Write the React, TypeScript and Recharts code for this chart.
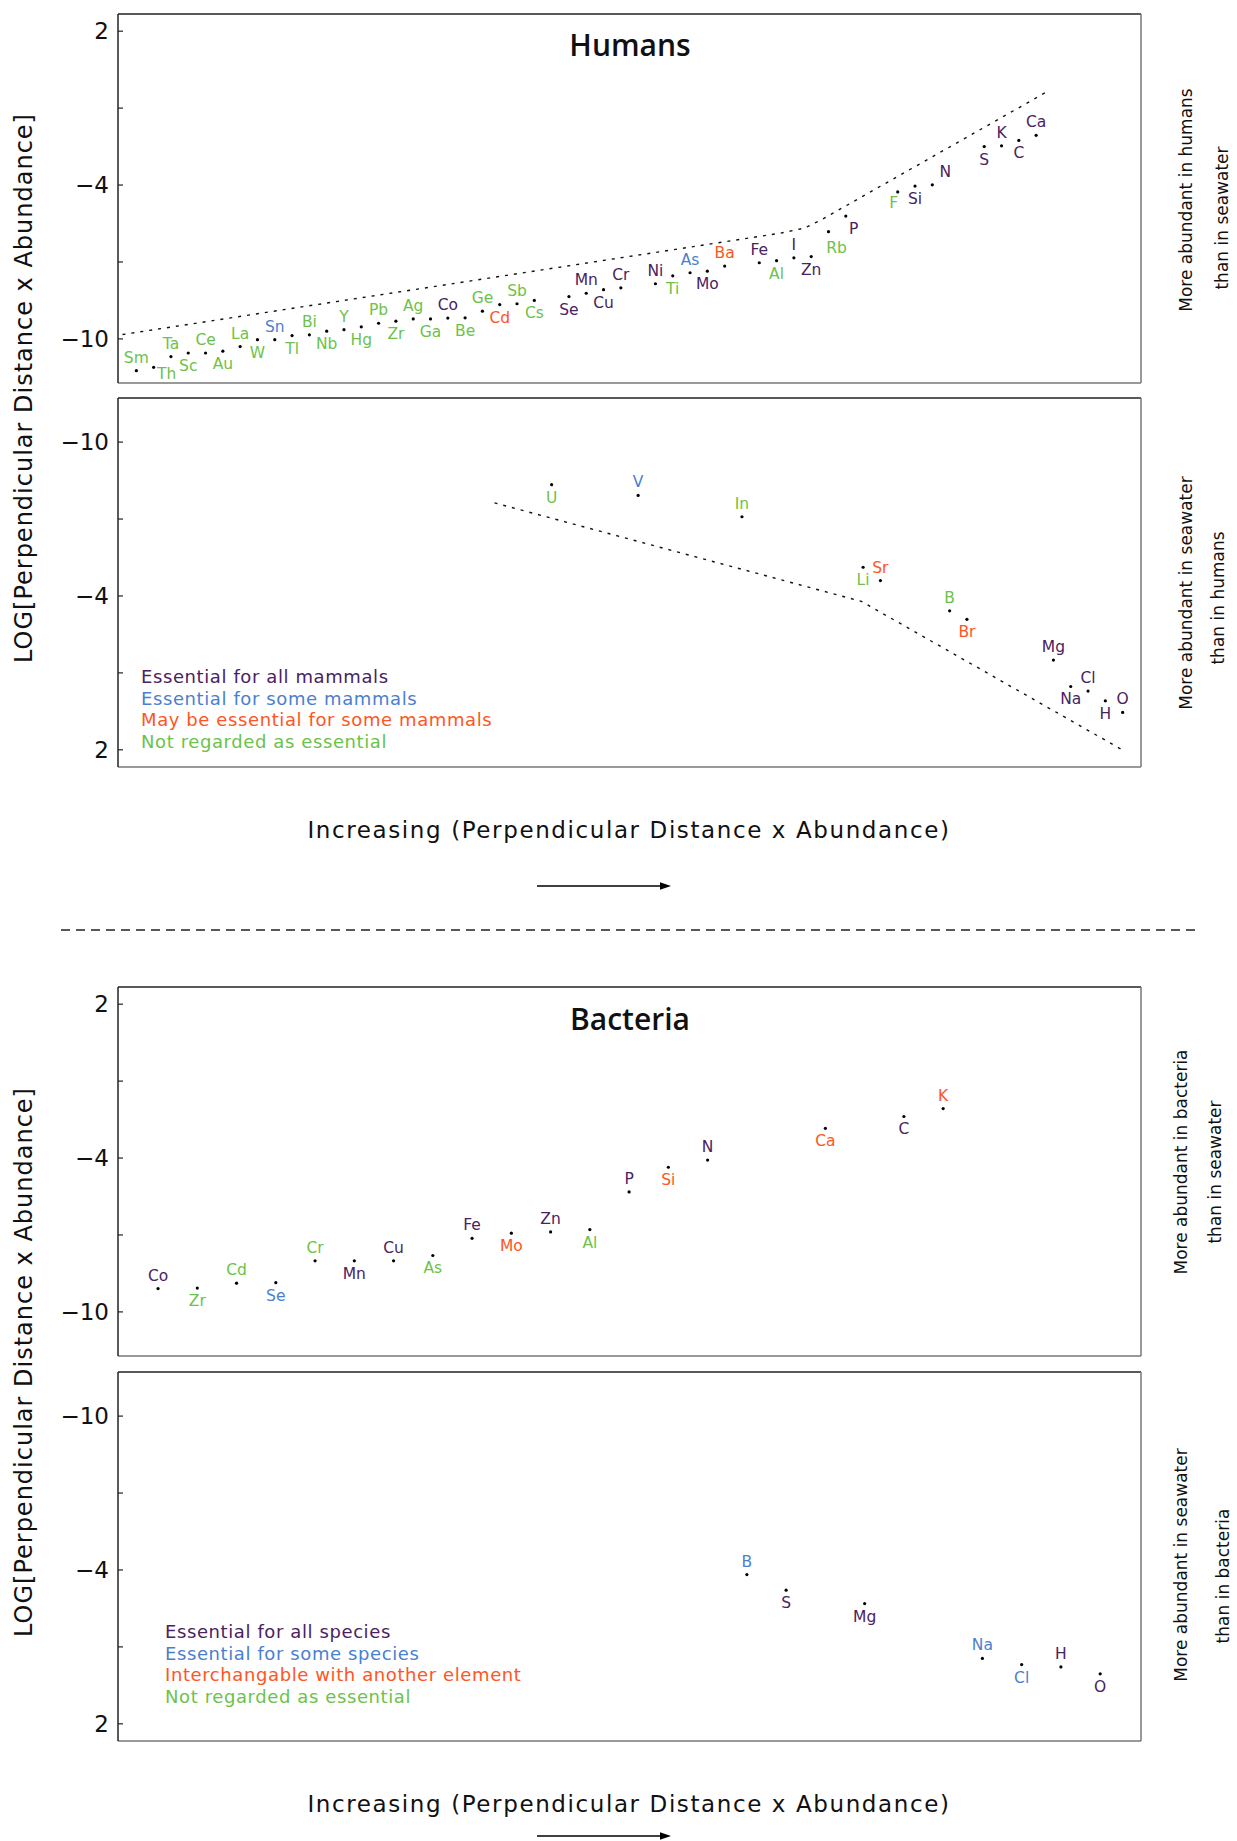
import React from 'react';
import { ScatterChart, Scatter, XAxis, YAxis, Legend, ReferenceLine } from 'recharts';

const W = 1237;
const H = 1841;
const PLOT_H = 369;

// label colours: essential for all / essential for some / may be (or interchangeable) / not essential
const groupColors = ['#4a2260', '#4a7fcf', '#ff5522', '#6cc24a'];

const humanGroups = [
  'Essential for all mammals',
  'Essential for some mammals',
  'May be essential for some mammals',
  'Not regarded as essential',
];
const bacteriaGroups = [
  'Essential for all species',
  'Essential for some species',
  'Interchangable with another element',
  'Not regarded as essential',
];

// [element, rank along x, LOG value, group]
type Row = [string, number, number, number];

const humansAbove: Row[] = [
  ['Sm', 0, -11.24, 3], ['Th', 1, -11.11, 3], ['Ta', 2, -10.69, 3], ['Sc', 3, -10.55, 3],
  ['Ce', 4, -10.55, 3], ['Au', 5, -10.48, 3], ['La', 6, -10.3, 3], ['W', 7, -10.03, 3],
  ['Sn', 8, -10.03, 1], ['Tl', 9, -9.87, 3], ['Bi', 10, -9.84, 3], ['Nb', 11, -9.7, 3],
  ['Y', 12, -9.64, 3], ['Hg', 13, -9.53, 3], ['Pb', 14, -9.39, 3], ['Zr', 15, -9.31, 3],
  ['Ag', 16, -9.22, 3], ['Ga', 17, -9.22, 3], ['Co', 18, -9.19, 0], ['Be', 19, -9.18, 3],
  ['Ge', 20, -8.92, 3], ['Cd', 21, -8.66, 2], ['Sb', 22, -8.63, 3], ['Cs', 23, -8.5, 3],
  ['Se', 25, -8.35, 0], ['Mn', 26, -8.22, 0], ['Cu', 27, -8.08, 0], ['Cr', 28, -8.01, 0],
  ['Ni', 30, -7.85, 0], ['Ti', 31, -7.54, 3], ['As', 32, -7.42, 1], ['Mo', 33, -7.36, 0],
  ['Ba', 34, -7.16, 2], ['Fe', 36, -7.03, 0], ['Al', 37, -6.95, 3], ['I', 38, -6.84, 0],
  ['Zn', 39, -6.79, 0], ['Rb', 40, -5.82, 3], ['P', 41, -5.21, 0], ['F', 44, -4.27, 3],
  ['Si', 45, -4.04, 0], ['N', 46, -3.99, 0], ['S', 49, -2.5, 0], ['K', 50, -2.47, 0],
  ['C', 51, -2.26, 0], ['Ca', 52, -2.06, 0],
];

const humansBelow: Row[] = [
  ['U', 24, -8.34, 3], ['V', 29, -7.92, 1], ['In', 35, -7.09, 3], ['Li', 42, -5.12, 3],
  ['Sr', 43, -4.6, 2], ['B', 47, -3.42, 3], ['Br', 48, -3.09, 2], ['Mg', 53, -1.5, 0],
  ['Na', 54, -0.47, 0], ['Cl', 55, -0.29, 0], ['H', 56, 0.09, 0], ['O', 57, 0.54, 0],
];

const bacteriaAbove: Row[] = [
  ['Co', 0, -9.09, 0], ['Zr', 1, -9.07, 3], ['Cd', 2, -8.88, 3], ['Se', 3, -8.86, 1],
  ['Cr', 4, -8.01, 3], ['Mn', 5, -8.01, 0], ['Cu', 6, -8.01, 0], ['As', 7, -7.8, 3],
  ['Fe', 8, -7.13, 0], ['Mo', 9, -6.93, 2], ['Zn', 10, -6.88, 0], ['Al', 11, -6.79, 3],
  ['P', 12, -5.32, 0], ['Si', 13, -4.36, 2], ['N', 14, -4.08, 0], ['Ca', 17, -2.84, 2],
  ['C', 19, -2.38, 0], ['K', 20, -2.07, 2],
];

const bacteriaBelow: Row[] = [
  ['B', 15, -3.82, 1], ['S', 16, -3.21, 0], ['Mg', 18, -2.69, 0], ['Na', 21, -0.55, 1],
  ['Cl', 22, -0.31, 1], ['H', 23, -0.22, 0], ['O', 24, 0.05, 0],
];

// dotted dividing curves: [rank, LOG value]
const humansAboveEdge: [number, number][] = [
  [-0.8, -9.83], [37.2, -5.88], [38.6, -5.68], [39.6, -5.35], [52.5, -0.41],
];
const humansBelowEdge: [number, number][] = [
  [20.7, -7.63], [41.9, -3.79], [57.0, 2.01],
];

const humansX: [number, number] = [-1.06, 58.06];
const bacteriaX: [number, number] = [-1.02, 25.04];
const yDomain: [number, number] = [-11.72, 2.67];
const yTicks = [2, -1, -4, -7, -10];
const yLabelled = [2, -4, -10];

const humansAboveNudge: Record<string, [number, number]> = {
  Th: [13, 7],
  Rb: [8, 16],
  P: [8, 13],
  F: [-4, 11],
  N: [13, -13],
};

const FONT = '"DejaVu Sans", sans-serif';

const fmtTick = (v: number) =>
  yLabelled.includes(v) ? (v < 0 ? '\u2212' + Math.abs(v) : String(v)) : '';

function makeShape(aboveParity: number, nudges: Record<string, [number, number]>) {
  return (props: any) => {
    const { cx, cy, payload } = props;
    if (cx == null || cy == null) return <g />;
    const above = payload.rank % 2 === aboveParity;
    const [nx, ny] = nudges[payload.el] ?? [0, above ? -13 : 13];
    return (
      <g>
        <circle cx={cx} cy={cy} r={1.6} fill="#000" />
        <text
          x={cx + nx}
          y={cy + ny}
          textAnchor="middle"
          dominantBaseline="central"
          fontSize={15.5}
          fontFamily={FONT}
          fill={groupColors[payload.g]}
        >
          {payload.el}
        </text>
      </g>
    );
  };
}

interface PanelProps {
  top: number;
  rows: Row[];
  edge?: [number, number][];
  xDomain: [number, number];
  flip?: boolean;
  aboveParity: number;
  nudges?: Record<string, [number, number]>;
  legend?: { labels: string[]; left: number; top: number };
}

function Panel({ top, rows, edge, xDomain, flip = false, aboveParity, nudges = {}, legend }: PanelProps) {
  const data = rows.map(([el, rank, v, g]) => ({ el, rank, v, g }));
  const edgeData = edge ? edge.map(([rank, v]) => ({ rank, v })) : [];
  const frameDark = { stroke: '#222', strokeWidth: 1.5 };
  const frameLight = { stroke: '#777', strokeWidth: 1.5 };
  const topValue = flip ? yDomain[0] : yDomain[1];
  const bottomValue = flip ? yDomain[1] : yDomain[0];

  return (
    <div style={{ position: 'absolute', left: 0, top: top - 2 }}>
      <ScatterChart width={W} height={PLOT_H + 4} margin={{ top: 2, right: 0, bottom: 2, left: 0 }}>
        <XAxis xAxisId="b" type="number" dataKey="rank" domain={xDomain} allowDataOverflow hide />
        <YAxis
          yAxisId="l"
          type="number"
          dataKey="v"
          domain={yDomain}
          reversed={flip}
          allowDataOverflow
          ticks={yTicks}
          interval={0}
          tickFormatter={fmtTick}
          tickLine={{ stroke: '#222', strokeWidth: 1.2 }}
          tickSize={-5}
          tickMargin={14}
          width={118}
          axisLine={frameDark}
          tick={{ fontSize: 23, fill: '#111', fontFamily: FONT }}
        />
        <YAxis
          yAxisId="r"
          orientation="right"
          type="number"
          dataKey="v"
          domain={yDomain}
          reversed={flip}
          allowDataOverflow
          ticks={yTicks}
          interval={0}
          width={96}
          tick={false}
          tickSize={-5}
          axisLine={frameLight}
          tickLine={{ stroke: '#555', strokeWidth: 1.2 }}
        />
        <ReferenceLine xAxisId="b" yAxisId="l" y={topValue} stroke="#222" strokeWidth={1.5} />
        <ReferenceLine xAxisId="b" yAxisId="l" y={bottomValue} stroke="#777" strokeWidth={1.5} />
        {edge && (
          <Scatter
            xAxisId="b"
            yAxisId="l"
            data={edgeData}
            line={{ stroke: '#111', strokeWidth: 1.4, strokeDasharray: '3 6' }}
            shape={() => <g />}
            isAnimationActive={false}
          />
        )}
        <Scatter xAxisId="b" yAxisId="r" data={data} shape={() => <g />} isAnimationActive={false} />
        <Scatter
          xAxisId="b"
          yAxisId="l"
          data={data}
          shape={makeShape(aboveParity, nudges)}
          isAnimationActive={false}
        />
        {legend && (
          <Legend
            layout="vertical"
            align="center"
            verticalAlign="middle"
            wrapperStyle={{ left: legend.left, top: legend.top, width: 'auto' }}
            content={() => (
              <div style={{ fontFamily: FONT, fontSize: 18, lineHeight: '21.5px', letterSpacing: 0.6, whiteSpace: 'nowrap' }}>
                {legend.labels.map((t, i) => (
                  <div key={t} style={{ color: groupColors[i] }}>
                    {t}
                  </div>
                ))}
              </div>
            )}
          />
        )}
      </ScatterChart>
    </div>
  );
}

function SideText({ x, y, text }: { x: number; y: number; text: string }) {
  return (
    <text
      transform={`translate(${x},${y}) rotate(-90)`}
      textAnchor="middle"
      fontSize={17}
      fontFamily={FONT}
      fill="#111"
    >
      {text}
    </text>
  );
}

function Arrow({ y }: { y: number }) {
  return (
    <g>
      <line x1={537} x2={662} y1={y} y2={y} stroke="#000" strokeWidth={1.4} />
      <polygon points={`660,${y - 3.8} 671,${y} 660,${y + 3.8}`} fill="#000" />
    </g>
  );
}

export default function App() {
  const xLabel = 'Increasing (Perpendicular Distance x Abundance)';
  const yLabel = 'LOG[Perpendicular Distance x Abundance]';
  return (
    <div style={{ position: 'absolute', left: 0, top: 0, width: W, height: H, background: '#fff', overflow: 'hidden' }}>
      <Panel top={14} rows={humansAbove} edge={humansAboveEdge} xDomain={humansX} aboveParity={0} nudges={humansAboveNudge} />
      <Panel
        top={398}
        rows={humansBelow}
        edge={humansBelowEdge}
        xDomain={humansX}
        flip
        aboveParity={1}
        legend={{ labels: humanGroups, left: 141, top: 270 }}
      />
      <Panel top={987} rows={bacteriaAbove} xDomain={bacteriaX} aboveParity={0} />
      <Panel
        top={1372}
        rows={bacteriaBelow}
        xDomain={bacteriaX}
        flip
        aboveParity={1}
        legend={{ labels: bacteriaGroups, left: 165, top: 251 }}
      />
      <svg width={W} height={H} style={{ position: 'absolute', left: 0, top: 0, pointerEvents: 'none' }}>
        <text x={630} y={56} textAnchor="middle" fontSize={30} fontWeight={600} fontFamily='"Open Sans", sans-serif' fill="#111">
          Humans
        </text>
        <text x={630} y={1030} textAnchor="middle" fontSize={30} fontWeight={600} fontFamily='"Open Sans", sans-serif' fill="#111">
          Bacteria
        </text>

        <text transform="translate(31.7,388) rotate(-90)" textAnchor="middle" fontSize={24} letterSpacing={1} fontFamily={FONT} fill="#111">
          {yLabel}
        </text>
        <text transform="translate(31.7,1362) rotate(-90)" textAnchor="middle" fontSize={24} letterSpacing={1} fontFamily={FONT} fill="#111">
          {yLabel}
        </text>

        <SideText x={1192} y={200} text="More abundant in humans" />
        <SideText x={1228} y={218} text="than in seawater" />
        <SideText x={1192} y={593} text="More abundant in seawater" />
        <SideText x={1224} y={598} text="than in humans" />
        <SideText x={1187} y={1162} text="More abundant in bacteria" />
        <SideText x={1221} y={1172} text="than in seawater" />
        <SideText x={1187} y={1565} text="More abundant in seawater" />
        <SideText x={1229} y={1576} text="than in bacteria" />

        <text x={629} y={838} textAnchor="middle" fontSize={23} letterSpacing={1.6} fontFamily={FONT} fill="#111">
          {xLabel}
        </text>
        <text x={629} y={1812} textAnchor="middle" fontSize={23} letterSpacing={1.6} fontFamily={FONT} fill="#111">
          {xLabel}
        </text>
        <Arrow y={886} />
        <Arrow y={1836} />

        <line x1={61} x2={1200} y1={930} y2={930} stroke="#222" strokeWidth={1.5} strokeDasharray="9 6" />
      </svg>
    </div>
  );
}
